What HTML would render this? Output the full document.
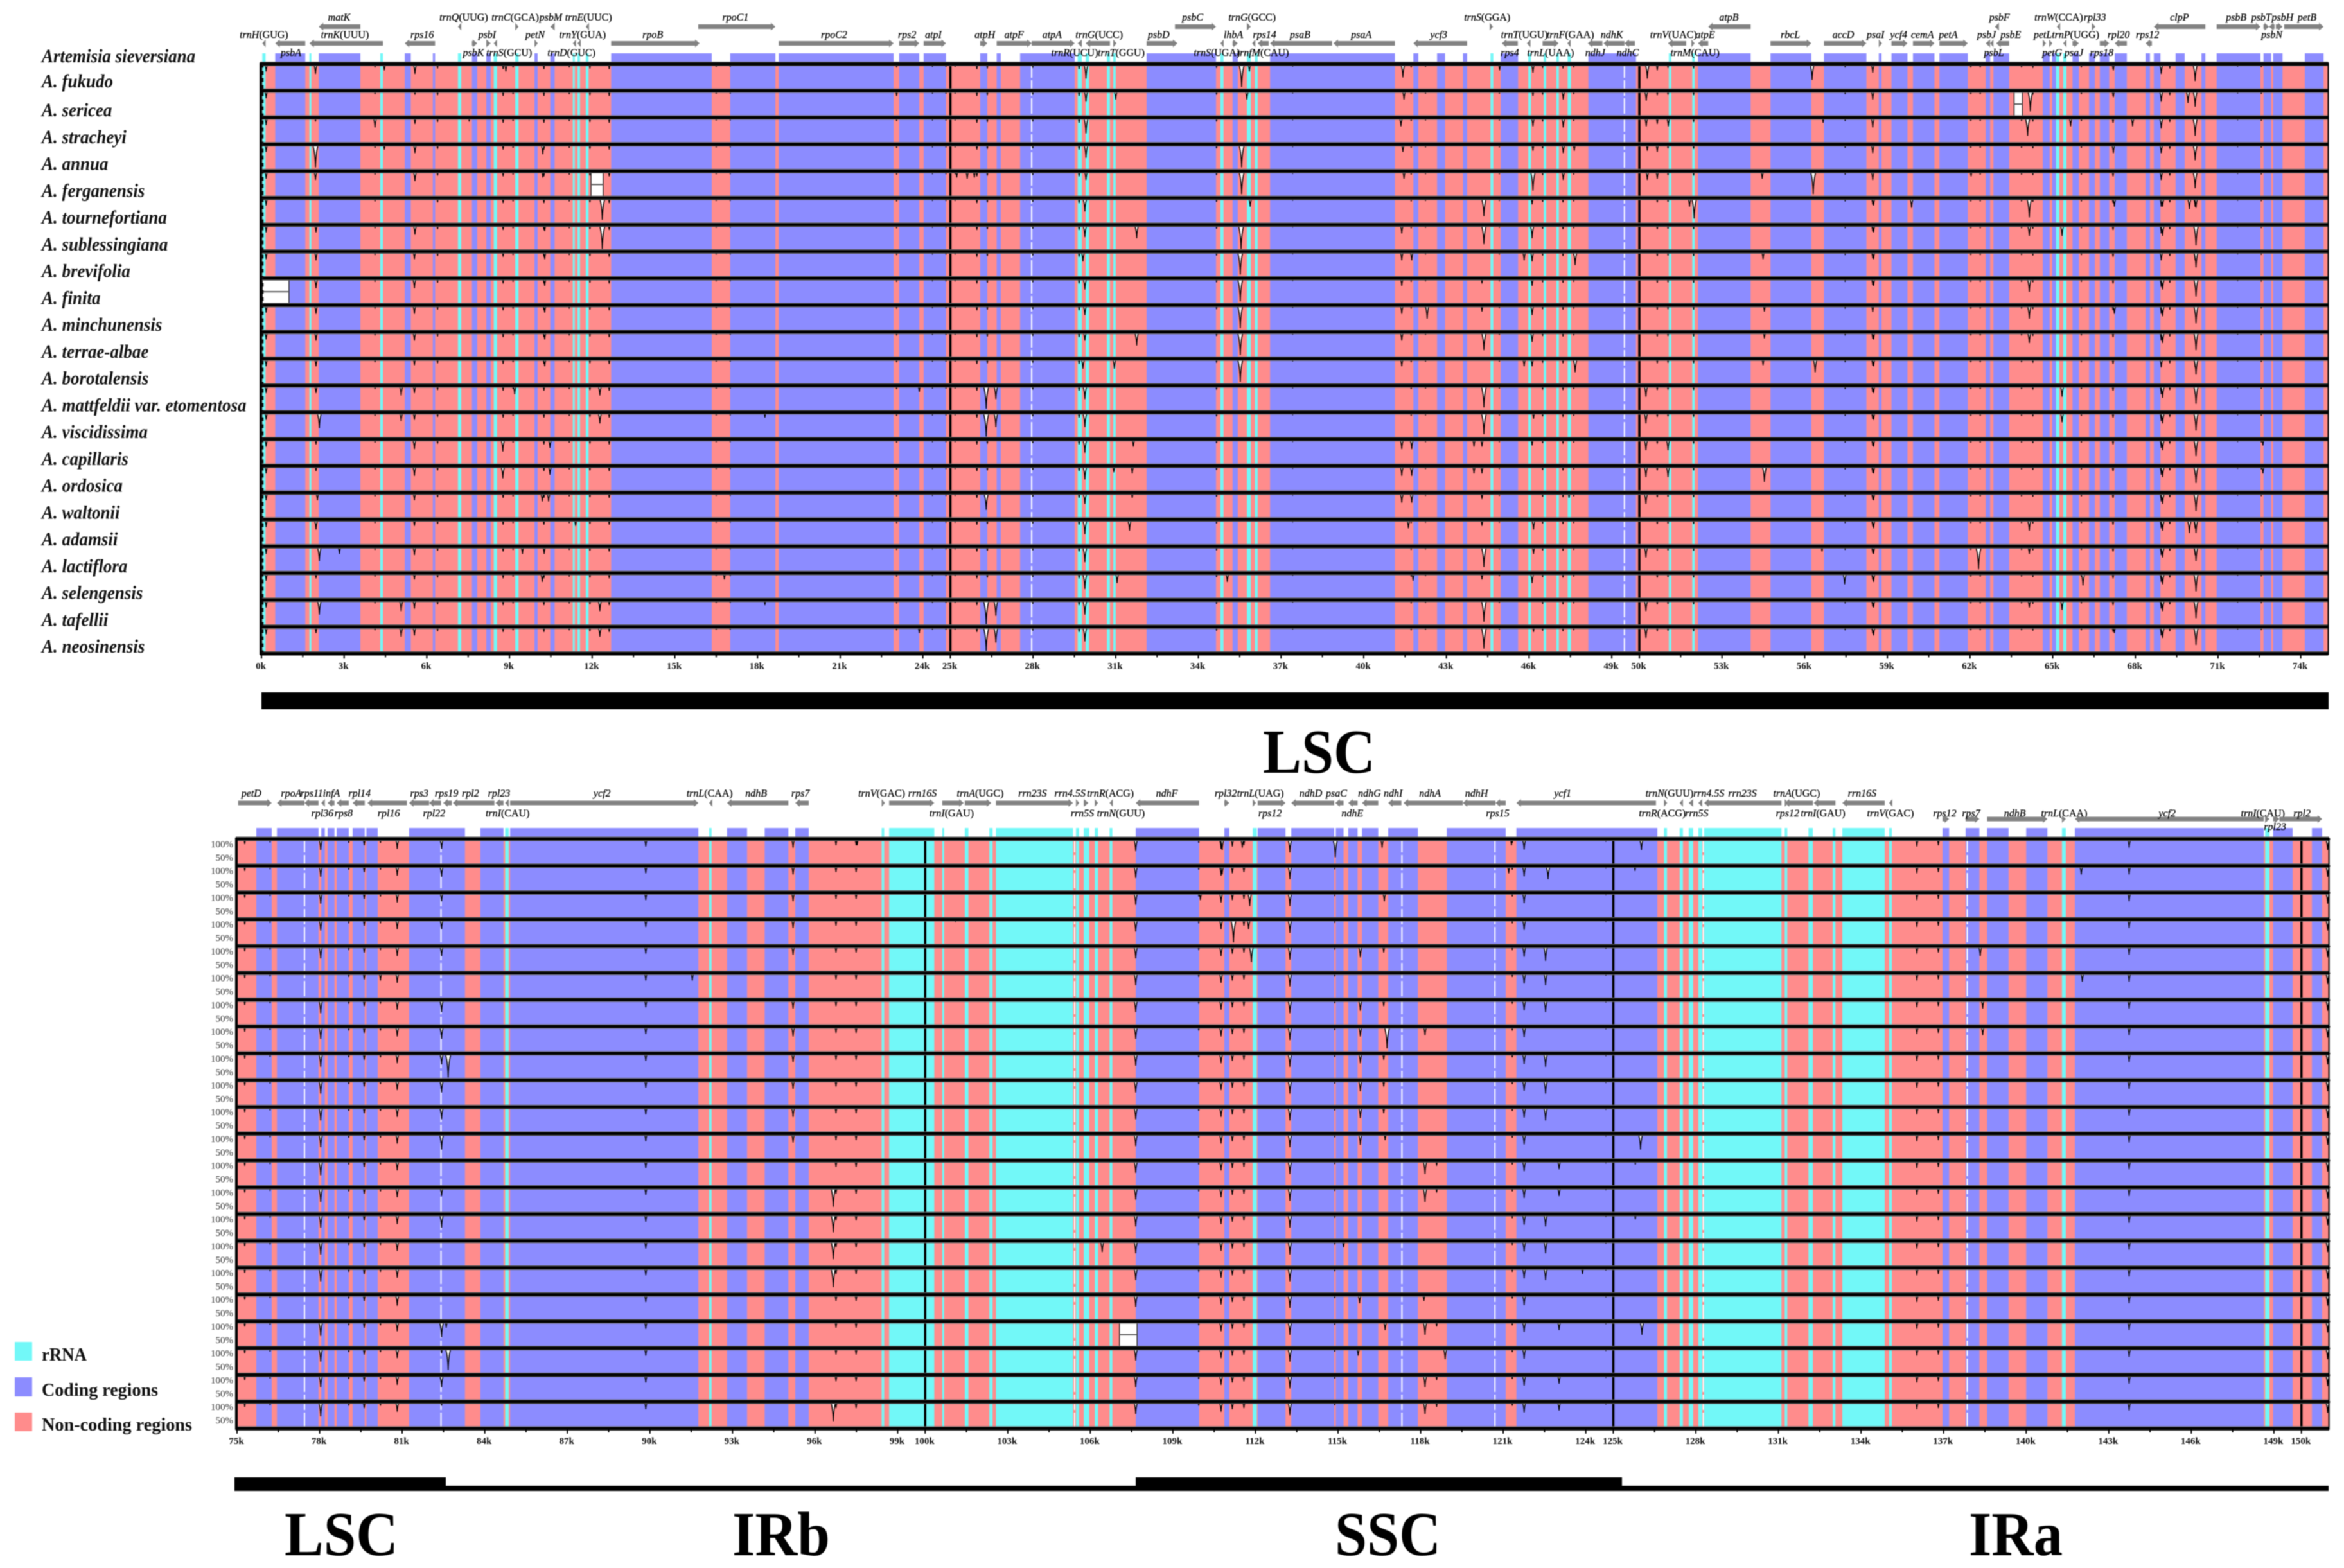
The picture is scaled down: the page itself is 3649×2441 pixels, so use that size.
<!DOCTYPE html>
<html lang="en">
<head>
<meta charset="utf-8">
<title>mVISTA chloroplast genome alignment of Artemisia species</title>
<style>
html,body{margin:0;padding:0;background:#fff;}
svg{display:block;filter:blur(0.7px);}
text{font-family:"Liberation Serif",serif;}
</style>
</head>
<body>
<svg id="chart" xmlns="http://www.w3.org/2000/svg" width="3649" height="2441" viewBox="0 0 3649 2441">
  <rect x="0" y="0" width="3649" height="2441" fill="#fff"/>
  <g id="top-panel"></g>
  <g id="bottom-panel"></g>
  <g id="species-labels"></g>

  <rect x="407" y="1078" width="3218" height="26" fill="#000"/>
  <text x="1966" y="1203" font-size="98" font-weight="bold" textLength="175" lengthAdjust="spacingAndGlyphs">LSC</text>

  <rect x="365" y="2300" width="329" height="21" fill="#000"/>
  <rect x="694" y="2313" width="1074" height="8" fill="#000"/>
  <rect x="1768" y="2300" width="757" height="21" fill="#000"/>
  <rect x="2525" y="2313" width="1100" height="8" fill="#000"/>
  <text x="443" y="2421" font-size="98" font-weight="bold" textLength="177" lengthAdjust="spacingAndGlyphs">LSC</text>
  <text x="1140" y="2421" font-size="98" font-weight="bold" textLength="152" lengthAdjust="spacingAndGlyphs">IRb</text>
  <text x="2078" y="2421" font-size="98" font-weight="bold" textLength="165" lengthAdjust="spacingAndGlyphs">SSC</text>
  <text x="3065" y="2421" font-size="98" font-weight="bold" textLength="146" lengthAdjust="spacingAndGlyphs">IRa</text>

  <g>
    <rect x="23" y="2089" width="27" height="29" fill="#72f8f8"/>
    <text x="65" y="2118" font-size="29" font-weight="bold" fill="#111" textLength="70" lengthAdjust="spacingAndGlyphs">rRNA</text>
    <rect x="23" y="2144" width="27" height="30" fill="#8c8cff"/>
    <text x="65" y="2173" font-size="29" font-weight="bold" fill="#111" textLength="181" lengthAdjust="spacingAndGlyphs">Coding regions</text>
    <rect x="23" y="2199" width="27" height="29" fill="#ff8c8c"/>
    <text x="65" y="2227" font-size="29" font-weight="bold" fill="#111" textLength="234" lengthAdjust="spacingAndGlyphs">Non-coding regions</text>
  </g>
</svg>
<script>
const speciesNames = ["Artemisia sieversiana","A. fukudo","A. sericea","A. stracheyi","A. annua","A. ferganensis","A. tournefortiana","A. sublessingiana","A. brevifolia","A. finita","A. minchunensis","A. terrae-albae","A. borotalensis","A. mattfeldii var. etomentosa","A. viscidissima","A. capillaris","A. ordosica","A. waltonii","A. adamsii","A. lactiflora","A. selengensis","A. tafellii","A. neosinensis"];

const topTicks = [0,3,6,9,12,15,18,21,24,25,28,31,34,37,40,43,46,49,50,53,56,59,62,65,68,71,74];
const bottomTicks = [75,78,81,84,87,90,93,96,99,100,103,106,109,112,115,118,121,124,125,128,131,134,137,140,143,146,149,150];

const topCoding = [[0.5,1.59],[2.08,3.59],[5.2,5.42],[6.22,6.3],[7.64,7.83],[8.16,8.32],[9.91,10.02],[10.48,10.64],[12.69,16.34],[17.01,18.65],[18.77,22.94],[23.14,23.87],[24.03,24.84],[26.08,26.34],[26.68,26.83],[27.53,29.51],[32.12,34.64],[35.24,35.43],[36.6,41.13],[41.8,41.98],[42.66,42.95],[43.6,43.75],[44.97,45.6],[48.15,49.88],[52.13,54.04],[54.76,56.24],[56.7,58.24],[58.69,58.79],[59.15,59.73],[59.93,60.71],[60.89,61.92],[62.57,62.73],[62.85,63.42],[64.64,64.89],[64.98,65.12],[65.72,65.95],[66.32,66.53],[66.71,67.05],[67.25,67.69],[68.37,68.53],[68.67,68.91],[69.46,69.79],[70.4,70.54],[70.95,72.54],[72.65,72.93],[73.0,73.34],[74.15,74.83]];
const topRrna = [[0.03,0.15],[1.74,1.81],[4.31,4.41],[7.13,7.25],[8.43,8.55],[9.21,9.33],[11.3,11.37],[11.47,11.56],[11.77,11.87],[29.62,29.77],[29.91,30.03],[30.68,30.79],[30.91,31.0],[34.8,34.91],[35.76,35.9],[36.05,36.15],[44.6,44.7],[45.97,46.07],[46.53,46.62],[46.99,47.08],[47.4,47.52],[51.07,51.16],[51.92,52.01],[65.12,65.24],[65.38,65.5]];
const bottomCoding = [[75.7,76.26],[76.45,77.96],[78.06,78.19],[78.29,78.54],[78.62,79.06],[79.2,79.64],[79.7,80.11],[81.25,83.28],[83.84,84.68],[84.92,91.76],[92.8,93.53],[94.17,95.03],[95.28,95.77],[107.65,109.95],[110.87,111.05],[112.08,113.09],[113.3,114.86],[114.92,115.2],[115.37,115.71],[115.87,116.46],[116.82,117.9],[118.95,121.09],[121.48,126.6],[136.96,137.2],[137.8,138.3],[138.58,139.36],[140.0,140.77],[141.77,148.63],[148.97,149.68],[150.38,150.75]];
const bottomRrna = [[84.74,84.87],[92.15,92.24],[98.42,98.51],[98.69,100.33],[100.62,100.69],[101.44,101.57],[102.33,102.45],[102.57,105.37],[105.48,105.59],[105.76,105.96],[106.16,106.28],[106.7,106.8],[111.9,112.05],[126.84,126.95],[127.41,127.53],[127.74,127.9],[128.09,128.23],[128.3,131.11],[131.23,131.32],[132.09,132.25],[132.97,133.07],[133.32,134.86],[135.02,135.12],[141.3,141.44],[148.68,148.84]];

const topBoundaries = [25,50];
const bottomBoundaries = [100,125,150];
const topGapLines = [27.95,49.46];
const bottomGapLines = [77.45,82.41,105.43,117.32,120.7,128.27,137.86];

/* name, start kb, end kb, strand, arrow track, label row, label kb */
const topGenes = [
["trnH(GUG)",0.03,0.15,-1,1,1,0.09],["psbA",0.5,1.59,-1,1,2,1.07],["matK",2.08,3.59,-1,0,0,2.82],["trnK(UUU)",1.74,4.41,-1,1,1,3.03],["rps16",5.2,6.3,-1,1,1,5.83],
["trnQ(UUG)",7.13,7.25,-1,0,0,7.34],["trnC(GCA)",9.21,9.33,1,0,0,9.21],["psbM",10.48,10.64,-1,0,0,10.5],["trnE(UUC)",11.77,11.87,-1,0,0,11.87],["psbI",8.16,8.32,1,1,1,8.19],
["psbK",7.64,7.83,1,1,2,7.69],["trnS(GCU)",8.43,8.55,-1,1,2,8.99],["petN",9.91,10.02,1,1,1,9.93],["trnY(GUA)",11.47,11.56,-1,1,1,11.65],["trnD(GUC)",11.3,11.37,-1,1,2,11.25],
["rpoB",12.69,15.9,1,1,1,14.2],["rpoC1",15.85,18.65,1,0,0,17.2],["rpoC2",18.77,22.94,1,1,1,20.78],["rps2",23.14,23.87,1,1,1,23.43],["atpI",24.03,24.84,1,1,1,24.38],
["atpH",26.08,26.34,1,1,1,26.25],["atpF",26.68,27.95,1,1,1,27.31],["atpA",27.95,29.51,1,1,1,28.69],["trnG(UCC)",29.91,30.79,-1,1,1,30.4],["trnR(UCU)",29.62,29.77,-1,1,2,29.51],
["trnT(GGU)",30.91,31.0,1,1,2,31.2],["psbD",32.12,33.24,1,1,1,32.56],["psbC",33.15,34.64,1,0,0,33.79],["trnG(GCC)",35.76,35.9,1,0,0,35.95],["trnS(UGA)",34.8,34.91,-1,1,2,34.67],
["lhbA",35.24,35.43,1,1,1,35.27],["trnfM(CAU)",35.95,36.05,-1,1,2,36.34],["rps14",36.15,36.55,-1,1,1,36.4],["psaB",36.6,38.85,-1,1,1,37.69],["psaA",38.9,41.13,-1,1,1,39.91],
["ycf3",41.8,43.75,-1,1,1,42.72],["trnS(GGA)",44.57,44.69,1,0,0,44.48],["rps4",45.01,45.59,-1,1,2,45.3],["trnT(UGU)",45.92,46.05,-1,1,1,45.83],["trnL(UAA)",46.49,47.07,1,1,2,46.78],
["trnF(GAA)",47.39,47.5,-1,1,1,47.5],["ndhJ",48.13,48.66,-1,1,2,48.4],["ndhK",48.7,49.46,-1,1,1,49.0],["ndhC",49.46,49.84,-1,1,2,49.58],["trnV(UAC)",51.04,51.7,-1,1,1,51.24],
["trnM(CAU)",51.89,51.97,1,1,2,52.02],["atpE",52.13,52.5,-1,1,1,52.39],["atpB",52.5,54.04,-1,0,0,53.25],["rbcL",54.76,56.24,1,1,1,55.48],["accD",56.7,58.24,1,1,1,57.4],
["psaI",58.69,58.79,1,1,1,58.57],["ycf4",59.15,59.73,1,1,1,59.41],["cemA",59.93,60.71,1,1,1,60.27],["petA",60.89,61.92,1,1,1,61.21],["psbJ",62.57,62.73,-1,1,1,62.6],
["psbL",62.73,62.85,-1,1,2,62.87],["psbF",62.9,63.05,-1,0,0,63.07],["psbE",62.95,63.42,-1,1,1,63.48],["petL",64.64,64.75,1,1,1,64.64],["petG",64.87,64.98,1,1,2,64.98],
["trnW(CCA)",65.15,65.27,-1,0,0,65.22],["rpl33",66.42,66.55,1,0,0,66.53],["trnP(UGG)",65.38,65.5,-1,1,1,65.83],["psaJ",65.72,65.95,1,1,2,65.77],["rps18",66.71,67.05,1,1,2,66.78],
["rpl20",67.25,67.69,-1,1,1,67.39],["rps12",68.37,68.6,-1,1,1,68.44],["clpP",68.67,70.54,-1,0,0,69.6],["psbB",70.95,72.54,1,0,0,71.66],["psbT",72.65,72.85,1,0,0,72.57],
["psbN",72.85,73.05,-1,0,1,72.95],["psbH",73.1,73.34,1,0,0,73.34],["petB",73.4,74.83,1,0,0,74.23]
];

const bottomGenes = [
["petD",75.04,76.26,1,0,0,75.52],["rpoA",76.45,77.45,-1,0,0,76.97],["rps11",77.45,77.96,-1,0,0,77.71],["infA",78.06,78.19,-1,0,0,78.43],["rpl36",78.29,78.54,-1,0,1,78.1],
["rps8",78.62,79.06,-1,0,1,78.87],["rpl14",79.2,79.64,-1,0,0,79.45],["rpl16",79.74,81.17,-1,0,1,80.51],["rps3",81.25,81.98,-1,0,0,81.62],["rpl22",81.98,82.41,-1,0,1,82.16],
["rps19",82.49,82.8,-1,0,0,82.61],["rpl2",82.84,84.35,-1,0,0,83.48],["rpl23",84.39,84.68,-1,0,0,84.52],["trnI(CAU)",84.74,84.87,-1,0,1,84.83],["ycf2",84.92,91.76,1,0,0,88.26],
["trnL(CAA)",92.15,92.24,-1,0,0,92.17],["ndhB",92.8,95.03,-1,0,0,93.86],["rps7",95.28,95.77,-1,0,0,95.47],["trnV(GAC)",98.42,98.51,1,0,0,98.42],["rrn16S",98.69,100.33,1,0,0,99.9],
["trnI(GAU)",100.62,101.4,1,0,1,100.96],["trnA(UGC)",101.44,102.4,1,0,0,102.0],["rrn23S",102.57,105.37,1,0,0,103.9],["rrn4.5S",105.48,105.59,1,0,0,105.26],["rrn5S",105.76,105.93,1,0,1,105.71],
["trnR(ACG)",106.16,106.28,1,0,0,106.73],["trnN(GUU)",106.7,106.8,-1,0,1,107.11],["ndhF",107.65,109.95,-1,0,0,108.78],["rpl32",110.87,111.05,1,0,0,110.92],["trnL(UAG)",111.9,112.0,1,0,0,112.18],
["rps12",112.08,113.09,1,0,1,112.53],["ndhD",113.3,114.86,-1,0,0,114.01],["psaC",114.9,115.2,-1,0,0,114.94],["ndhE",115.37,115.71,-1,0,1,115.52],["ndhG",115.87,116.46,-1,0,0,116.14],
["ndhI",116.82,117.3,-1,0,0,117.0],["ndhA",117.38,119.53,-1,0,0,118.34],["ndhH",119.53,120.72,-1,0,0,120.03],["rps15",120.72,121.09,-1,0,1,120.8],["ycf1",121.48,126.55,-1,0,0,123.16],
["trnN(GUU)",126.84,126.95,1,0,0,127.04],["trnR(ACG)",127.41,127.53,-1,0,1,126.78],["rrn4.5S",127.74,127.9,-1,0,0,128.47],["rrn5S",128.09,128.23,-1,0,1,128.03],["rrn23S",128.3,131.11,-1,0,0,129.69],
["trnA(UGC)",131.23,132.25,-1,0,0,131.66],["rps12",131.23,131.32,1,0,1,131.33],["trnI(GAU)",132.28,133.07,-1,0,1,132.62],["rrn16S",133.32,134.86,-1,0,0,134.04],["trnV(GAC)",135.02,135.12,-1,0,1,135.07],
["rps12",136.96,137.2,1,1,1,137.04],["rps7",137.8,138.3,1,1,1,138.0],["ndhB",138.58,140.77,1,1,1,139.59],["trnL(CAA)",141.3,141.44,1,1,1,141.38],["ycf2",141.77,148.63,-1,1,1,145.12],
["trnI(CAU)",148.68,148.84,1,1,1,148.6],["rpl23",148.97,149.2,1,1,2,149.04],["rpl2",149.2,150.75,1,1,1,150.02]
];

/* [kb, relative depth] dips present in every sequence */
const topSharedPeaks = [[0.17,.25],[4.12,.08],[6.39,.12],[8.77,.15],[9.13,.08],[10.25,.15],[11.17,.08],[11.92,.12],[12.62,.15],[16.5,.06],[17.01,.06],[23.05,.08],[24.35,.06],[24.84,.06],[25.17,.06],[25.96,.15],[26.34,.12],[27.99,.1],[29.67,.15],[34.66,.1],[37.42,.05],[41.72,.08],[42.24,.06],[44.92,.06],[46.49,.1],[47.23,.12],[47.62,.08],[50.65,.12],[51.04,.1],[51.97,.12],[57.47,.08],[58.47,.22],[62.03,.08],[62.37,.08],[63.87,.08],[64.28,.1],[66.04,.08],[67.19,.15],[68.94,.3],[69.25,.12],[70.17,.3],[71.71,.05],[72.57,.07]];
const bottomSharedPeaks = [[75.28,.15],[76.2,.08],[79.06,.1],[79.62,.2],[80.21,.1],[80.82,.35],[89.85,.25],[96.76,.2],[97.49,.2],[107.65,.45],[109.94,.1],[110.75,.35],[111.16,.25],[111.58,.2],[113.25,.5],[114.88,.08],[121.33,.1],[121.76,.38],[124.73,.05],[136.03,.25],[136.81,.2],[143.74,.3],[150.95,.4]];

/* [kb, relative depth] dips specific to one sequence */
const topRowPeaks = [
[[1.96,.35],[4.46,.2],[5.57,.35],[8.87,.25],[29.92,.55],[35.57,.9],[35.85,.25],[41.42,.5],[44.93,.2],[46.14,.3],[50.29,.55],[50.65,.2],[56.27,.6],[58.47,.3],[67.2,.2],[68.94,.35],[70.17,.65]],
[[5.57,.1],[23.05,.15],[29.92,.4],[31,.3],[35.76,.3],[41.46,.3],[46.14,.15],[47.24,.3],[50.25,.35],[58.47,.3],[64.19,.8],[67.2,.2],[68.94,.4],[69.91,.45],[70.17,.6]],
[[1.96,.1],[4.12,.35],[5.57,.2],[7.54,.1],[29.92,.6],[41.35,.3],[46.14,.3],[47.24,.35],[50.25,.3],[50.65,.2],[51.05,.3],[56.67,.15],[58.47,.35],[64.09,.7],[65.65,.3],[67.9,.3],[68.94,.4],[70.17,.7]],
[[1.96,.9],[4.46,.15],[5.57,.3],[10.21,.35],[29.92,.5],[35.57,.9],[41.42,.25],[46.14,.2],[47.24,.3],[47.64,.2],[50.29,.2],[50.65,.25],[58.47,.3],[67.2,.3],[68.94,.3],[70.17,.6]],
[[1.96,.3],[5.57,.35],[10.21,.2],[25.23,.2],[25.61,.25],[25.87,.2],[29.92,.3],[35.57,.9],[41.46,.25],[46.14,.75],[47.24,.3],[50.29,.3],[50.65,.25],[54.46,.25],[56.31,.9],[58.47,.3],[62.04,.15],[68.94,.3],[70.17,.65]],
[[12.37,.85],[29.88,.5],[35.88,.3],[44.36,.7],[46.11,.2],[51.82,.3],[51.99,.8],[58.5,.25],[59.88,.35],[64.15,.75],[67.24,.3],[68.99,.3],[69.96,.4],[70.2,.35]],
[[1.98,.25],[5.57,.35],[10.28,.2],[12.37,.95],[29.88,.45],[31.76,.5],[35.55,.95],[41.38,.3],[44.36,.75],[46.11,.5],[58.5,.25],[64.15,.4],[65.34,.4],[68.99,.4],[70.2,.8]],
[[1.98,.3],[5.55,.25],[10.28,.25],[29.81,.35],[35.52,.9],[41.38,.3],[41.74,.3],[45.82,.3],[46.11,.35],[47.67,.5],[54.49,.25],[58.5,.25],[70.2,.6]],
[[1.98,.35],[5.55,.35],[10.28,.25],[29.88,.4],[35.52,.9],[41.38,.25],[44.29,.15],[46.11,.25],[58.5,.25],[64.15,.5],[68.99,.4],[70.2,.7]],
[[1.98,.3],[5.55,.3],[10.28,.25],[29.88,.35],[35.52,.9],[41.38,.3],[42.3,.5],[44.29,.2],[46.11,.35],[54.54,.2],[64.15,.5],[67.24,.3],[68.99,.4],[70.2,.7]],
[[1.98,.3],[5.55,.3],[10.28,.25],[29.88,.3],[31.76,.5],[35.52,.9],[41.38,.3],[44.36,.7],[46.11,.35],[54.54,.2],[58.5,.25],[64.15,.4],[68.99,.4],[70.2,.7]],
[[1.98,.25],[5.55,.2],[10.28,.25],[29.81,.35],[30.95,.35],[35.52,.9],[41.38,.25],[45.82,.25],[46.11,.25],[47.67,.5],[54.49,.2],[56.38,.5],[58.5,.25],[70.2,.6]],
[[1.98,.25],[5.07,.35],[5.55,.25],[9.19,.3],[12.28,.35],[23.87,.2],[26.3,.9],[26.65,.5],[29.88,.5],[44.36,.85],[50.24,.4],[58.5,.25],[65.34,.4],[68.99,.45],[70.2,.7]],
[[2.1,.6],[5.07,.3],[5.55,.25],[12.28,.4],[18.27,.15],[26.3,.95],[26.65,.55],[29.88,.55],[44.36,.85],[46.16,.2],[50.24,.4],[58.5,.25],[65.34,.35],[68.99,.4],[70.2,.7]],
[[1.98,.15],[5.55,.35],[8.76,.45],[10.47,.3],[29.88,.5],[31.64,.25],[41.38,.35],[41.74,.35],[44,.25],[44.29,.25],[46.11,.2],[50.24,.4],[51.04,.4],[58.5,.25],[68.99,.4],[70.2,.65],[72.63,.2]],
[[1.98,.15],[5.55,.35],[8.76,.45],[10.47,.3],[29.88,.5],[30.93,.2],[31.6,.25],[41.38,.35],[41.74,.35],[44,.25],[44.29,.25],[50.24,.4],[51.04,.4],[54.54,.6],[58.5,.25],[68.99,.4],[70.2,.65],[72.63,.25]],
[[2.03,.25],[5.55,.25],[10.19,.3],[10.42,.3],[26.3,.65],[29.88,.4],[31.6,.15],[41.38,.35],[41.74,.35],[44.29,.2],[47.45,.15],[50.24,.4],[58.5,.25],[68.99,.4],[70.2,.7]],
[[1.98,.35],[5.55,.2],[11.4,.2],[29.88,.55],[31.5,.4],[41.62,.3],[44.29,.2],[46.16,.35],[58.5,.3],[64.15,.4],[68.99,.4],[69.96,.5],[70.2,.5]],
[[2.1,.55],[2.83,.25],[5.55,.3],[9.47,.25],[10.26,.25],[29.88,.6],[44.36,.8],[46.16,.25],[50.24,.4],[56.63,.15],[58.5,.25],[62.31,.9],[64.15,.25],[68.99,.4],[70.2,.55]],
[[1.98,.15],[5.55,.2],[10.19,.3],[16.8,.2],[29.88,.6],[31.05,.35],[35.05,.3],[41.79,.25],[44.29,.2],[46.11,.35],[57.45,.4],[58.5,.3],[66.1,.45],[68.99,.4],[70.2,.7]],
[[2.1,.55],[5.07,.4],[5.55,.3],[12.28,.4],[18.27,.15],[26.3,.95],[26.65,.6],[29.88,.55],[44.36,.85],[50.24,.4],[58.5,.25],[64.15,.25],[65.34,.35],[68.99,.4],[70.2,.7]],
[[1.98,.2],[5.07,.35],[5.55,.3],[12.28,.35],[23.87,.2],[26.3,.95],[26.65,.6],[29.88,.55],[44.36,.85],[46.16,.15],[50.24,.4],[58.5,.3],[67.24,.2],[68.99,.4],[70.2,.7]]
];

const bottomRowPeaks = [
[[78.04,.4],[82.43,.35],[95.2,.3],[97.53,.2],[110.79,.4],[111.52,.3],[114.9,.7],[116.6,.3],[121.3,.2],[126.02,.4]],
[[78.04,.4],[82.43,.4],[95.2,.3],[110.79,.3],[121.2,.25],[122.63,.5],[125.79,.15],[142,.3]],
[[78.04,.4],[82.43,.3],[95.2,.3],[110,.25],[111.79,.5],[116.68,.3]],
[[78.04,.4],[82.43,.35],[95.2,.3],[101.1,.05],[111.2,.9],[111.75,.35]],
[[78.04,.45],[82.43,.35],[95.2,.3],[111.85,.6],[115.81,.4],[116.66,.2],[122.54,.55],[138.33,.35]],
[[80.21,.25],[91.54,.25],[122.54,.45],[142.04,.3]],
[[78.04,.5],[82.43,.45],[95.2,.3],[115.81,.4],[116.66,.2],[122.54,.45],[138.42,.3]],
[[78.04,.45],[82.43,.45],[95.2,.35],[115.81,.35],[116.78,.85],[118.16,.3],[138.42,.3]],
[[78.04,.5],[82.43,.4],[82.67,.95],[95.2,.3],[115.81,.35],[116.66,.2],[122.54,.5]],
[[78.04,.5],[82.43,.45],[95.2,.3],[115.81,.4],[116.66,.2],[122.54,.5]],
[[78.04,.5],[82.43,.45],[95.2,.35],[115.81,.4],[116.66,.2],[122.54,.5]],
[[78.04,.5],[82.43,.6],[95.2,.3],[115.81,.4],[116.71,.2],[125.99,.6]],
[[78.04,.55],[118.16,.5],[118.58,.15],[123.03,.3],[125.8,.1]],
[[78.04,.55],[82.43,.3],[96.66,.75],[118.16,.55],[118.58,.15],[123.03,.3]],
[[78.04,.5],[82.43,.5],[96.66,.7],[122.54,.45],[125.8,.15]],
[[78.04,.5],[96.66,.7],[106.43,.4],[115.2,.2],[122.54,.45]],
[[78.04,.5],[96.66,.75],[122.54,.45],[123.88,.2]],
[[80.82,.4],[115.78,.3],[118.12,.2]],
[[78.04,.55],[82.43,.6],[82.6,.2],[116.71,.3],[118.16,.5],[118.58,.15],[123.03,.3],[126.04,.5]],
[[78.04,.5],[82.43,.15],[82.67,.85],[115.73,.25],[118.89,.4]],
[[78.04,.45],[82.43,.45],[118.16,.45],[118.58,.15],[123.03,.3]],
[[78.04,.55],[82.43,.1],[96.66,.75],[118.16,.45],[118.58,.15],[123.03,.3]]
];

/* [row, start kb, end kb] full-depth alignment gaps */
const topGaps = [[1,63.6,63.9],[4,11.96,12.4],[8,0.03,1.0]];
const bottomGaps = [[18,107.06,107.7]];

const rowCount = 22;
const percentLabels = ["100%","50%"];

const SVG_NS = "http://www.w3.org/2000/svg";
const COL_BLUE = "#8c8cff", COL_PINK = "#ff8c8c", COL_CYAN = "#72f8f8", COL_ARROW = "#828282";

function node(tag, parent) {
  const el = document.createElementNS(SVG_NS, tag);
  parent.appendChild(el);
  return el;
}
function attrs(el, map) {
  for (const k in map) el.setAttribute(k, map[k]);
}

function drawPanel(g, p) {
  const x = p.x, rowY = p.rowY;
  const right = x(p.maxKb), bottom = rowY(rowCount);

  const base = node("rect", g);
  attrs(base, {x: x(p.minKb), y: p.rowsTop, width: right - x(p.minKb), height: bottom - p.rowsTop, fill: COL_PINK});
  
  

  p.coding.forEach(function (seg) {
    const r = node("rect", g);
    attrs(r, {x: x(seg[0]), y: p.bandTop, width: x(seg[1]) - x(seg[0]), height: bottom - p.bandTop, fill: COL_BLUE});
    
    
  });
  p.rrna.forEach(function (seg) {
    const r = node("rect", g);
    attrs(r, {x: x(seg[0]), y: p.bandTop, width: Math.max(x(seg[1]) - x(seg[0]), 3), height: bottom - p.bandTop, fill: COL_CYAN});
    
    
  });
  p.gapLines.forEach(function (kb) {
    const l = node("line", g);
    attrs(l, {x1: x(kb), x2: x(kb), y1: p.rowsTop, y2: bottom, stroke: "#fff", "stroke-width": 2, "stroke-dasharray": "24 4"});
    
    
  });

  for (let row = 0; row < rowCount; row++) {
    const y0 = rowY(row);
    p.shared.concat(p.rowPeaks[row]).forEach(function (peak) {
      const px = x(peak[0]), dep = peak[1] * p.rowHeight, hw = 2.2 + 2.6 * peak[1], tip = y0 + 2 + dep;
      const s = node("path", g);
      attrs(s, {d: "M" + (px - hw) + " " + y0 + "Q" + (px - 0.6) + " " + (y0 + dep * 0.35) + " " + px + " " + tip + "Q" + (px + 0.6) + " " + (y0 + dep * 0.35) + " " + (px + hw) + " " + y0 + "Z", fill: "#fff", stroke: "#000", "stroke-width": 1.5, "stroke-linejoin": "round"});
      
      
    });
  }

  p.gaps.forEach(function (gap) {
    const top = rowY(gap[0]), bot = rowY(gap[0] + 1);
    const r = node("rect", g);
    attrs(r, {x: x(gap[1]), y: top, width: x(gap[2]) - x(gap[1]), height: bot - top, fill: "#fff", stroke: "#333", "stroke-width": 1.5});
    
    
    const m = node("line", g);
    attrs(m, {x1: x(gap[1]), x2: x(gap[2]), y1: (top + bot) / 2, y2: (top + bot) / 2, stroke: "#555", "stroke-width": 2});
    
    
  });

  p.boundaries.forEach(function (kb) {
    const l = node("line", g);
    attrs(l, {x1: x(kb), x2: x(kb), y1: p.rowsTop, y2: bottom, stroke: "#000", "stroke-width": 3.5});
    
    
  });

  for (let row = 0; row <= rowCount; row++) {
    const y0 = rowY(row);
    const halo = node("line", g);
    attrs(halo, {x1: x(p.minKb) - 2, x2: right, y1: y0, y2: y0, stroke: "#666", "stroke-width": 7});
    
    
    const line = node("line", g);
    attrs(line, {x1: x(p.minKb) - 2, x2: right, y1: y0, y2: y0, stroke: "#000", "stroke-width": 4.5});
    
    
  }

  const left = node("line", g);
  attrs(left, {x1: x(p.minKb) - 1, x2: x(p.minKb) - 1, y1: rowY(0) - 2, y2: bottom + 2, stroke: "#000", "stroke-width": 4});
  
  
  if (p.leftEdgeTrace) {
    const edge = node("line", g);
    attrs(edge, {x1: x(p.minKb) + 2, x2: x(p.minKb) + 2, y1: rowY(0), y2: bottom, stroke: "#111", "stroke-width": 2.5, "stroke-dasharray": "6 5"});
    
    
  }
  const rightAxis = node("line", g);
  attrs(rightAxis, {x1: right, x2: right, y1: rowY(0) - 2, y2: bottom + 2, stroke: "#000", "stroke-width": 2});
  
  

  p.ticks.forEach(function (kb, i) {
    const t = node("line", g);
    attrs(t, {x1: x(kb), x2: x(kb), y1: bottom, y2: bottom + 8, stroke: "#000", "stroke-width": 2});
    
    
    const lab = node("text", g);
    attrs(lab, {x: x(kb) - 1, y: bottom + 24, "text-anchor": "middle", "font-size": 15, "font-weight": "bold", fill: "#111"});
    lab.textContent = kb + "k";
    
    
    const next = p.ticks[i + 1];
    if (next !== undefined && next - kb === 3) {
      const m = node("line", g);
      attrs(m, {x1: x(kb + 1.5), x2: x(kb + 1.5), y1: bottom, y2: bottom + 6, stroke: "#000", "stroke-width": 2});
      
      
    }
  });

  p.genes.forEach(function (gene) {
    const x1 = x(gene[1]), x2 = x(gene[2]), dir = gene[3], ay = p.arrowY[gene[4]];
    const w = Math.max(x2 - x1, 5), sx = dir > 0 ? x1 : x1 + w, ex = dir > 0 ? x1 + w : x1;
    const head = Math.min(7, w);
    const neck = ex - dir * head;
    const a = node("polygon", g);
    attrs(a, {points: [sx, ay - 3.5, neck, ay - 3.5, neck, ay - 6, ex, ay, neck, ay + 6, neck, ay + 3.5, sx, ay + 3.5].join(" "), fill: COL_ARROW});
    
    

    const t = node("text", g);
    attrs(t, {x: x(gene[6]), y: p.labelY[gene[5]] + 5, "text-anchor": "middle", "font-size": 16, "font-style": "italic", fill: "#000", stroke: "#000", "stroke-width": 0.25});
    
    
    const open = gene[0].indexOf("(");
    if (open < 0) {
      t.textContent = gene[0];
    } else {
      const a1 = node("tspan", t);
      a1.textContent = gene[0].slice(0, open);
      const a2 = node("tspan", t);
      a2.setAttribute("font-style", "normal");
      a2.textContent = gene[0].slice(open);
    }
  });
}

const topX = function (kb) { return 407 + 42.9 * kb; };
const bottomX = function (kb) { return 369 + 42.85 * (kb - 75); };
const topRowY = function (row) { return 99.5 + 41.72 * row; };
const bottomRowY = function (row) { return 1306 + 41.72 * row; };

drawPanel(document.getElementById("top-panel"), {
  x: topX, rowY: topRowY, minKb: 0, maxKb: 75, rowsTop: 97, bandTop: 83, rowHeight: 37, leftEdgeTrace: true,
  coding: topCoding, rrna: topRrna, gapLines: topGapLines, boundaries: topBoundaries,
  ticks: topTicks, genes: topGenes, shared: topSharedPeaks, rowPeaks: topRowPeaks, gaps: topGaps,
  arrowY: [41.5, 67.5], labelY: [27, 54, 82]
});
drawPanel(document.getElementById("bottom-panel"), {
  x: bottomX, rowY: bottomRowY, minKb: 75, maxKb: 151, rowsTop: 1303, bandTop: 1289, rowHeight: 37, leftEdgeTrace: false,
  coding: bottomCoding, rrna: bottomRrna, gapLines: bottomGapLines, boundaries: bottomBoundaries,
  ticks: bottomTicks, genes: bottomGenes, shared: bottomSharedPeaks, rowPeaks: bottomRowPeaks, gaps: bottomGaps,
  arrowY: [1250, 1275], labelY: [1235, 1266, 1287]
});

const bottomPanel = document.getElementById("bottom-panel");
for (let row = 0; row < rowCount; row++) {
  percentLabels.forEach(function (label, i) {
    const t = node("text", bottomPanel);
    attrs(t, {x: 363, y: bottomRowY(row) + (i === 0 ? 13 : 34), "text-anchor": "end", "font-size": 15, fill: "#333"});
    t.textContent = label;
    
    
  });
}

const speciesGroup = document.getElementById("species-labels");
speciesNames.forEach(function (name, i) {
  const baseline = i === 0 ? 97 : i === 1 ? 136 : 181 + 41.75 * (i - 2);
  const t = node("text", speciesGroup);
  attrs(t, {transform: "translate(65," + baseline + ") scale(0.9,1)", x: 0, y: 0, "font-size": 30, "font-style": "italic", "font-weight": "bold", fill: "#111"});
  t.textContent = name;
  
  
});
</script>
</body>
</html>
